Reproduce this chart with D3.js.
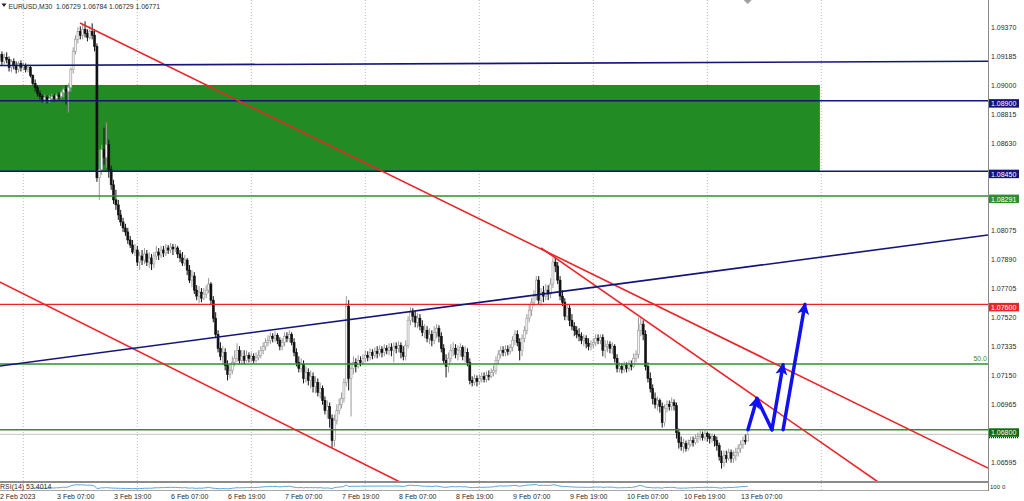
<!DOCTYPE html>
<html><head><meta charset="utf-8">
<script src="https://cdn.jsdelivr.net/npm/d3@7"></script>
<style>
body{margin:0;background:#fff;overflow:hidden}
text{font-family:"Liberation Sans",Arial,sans-serif}
</style>
</head><body>
<svg id="chart" width="1024" height="501"></svg>
<script>
// ---------------- DATA ----------------
const titleText = "EURUSD,M30  1.06729 1.06784 1.06729 1.06771";
const firstDateLabel = "2 Feb 2023";
const timeLabels = ["3 Feb 07:00","3 Feb 19:00","6 Feb 07:00","6 Feb 19:00","7 Feb 07:00","7 Feb 19:00","8 Feb 07:00","8 Feb 19:00","9 Feb 07:00","9 Feb 19:00","10 Feb 07:00","10 Feb 19:00","13 Feb 07:00"];
const timeLabelBars = [24,48,72,96,120,144,168,192,216,240,264,288,312];
const dayStartBars = [10,58,106,154,202,250,298,346];
const priceTicks = [1.09370,1.09185,1.09000,1.08815,1.08630,1.08075,1.07890,1.07705,1.07520,1.07335,1.07150,1.06965,1.06595];
const rsiAxisLabels = ["100","0"];

const close = [1.09195,1.09150,1.09176,1.09163,1.09112,1.09150,1.09125,1.09099,1.09138,1.09112,
1.09125,1.09099,1.09112,1.09061,1.09009,1.08984,1.08945,1.08926,1.08907,1.08920,
1.08901,1.08913,1.08926,1.08913,1.08933,1.08926,1.08952,1.08971,1.08958,1.08984,
1.09099,1.09214,1.09291,1.09342,1.09317,1.09355,1.09329,1.09304,1.09342,1.09317,
1.09246,1.08408,1.08459,1.08587,1.08536,1.08619,1.08459,1.08363,1.08267,1.08235,
1.08171,1.08126,1.08088,1.08062,1.08011,1.07979,1.07934,1.07947,1.07870,1.07909,
1.07883,1.07922,1.07870,1.07896,1.07858,1.07909,1.07934,1.07915,1.07947,1.07928,
1.07960,1.07947,1.07966,1.07954,1.07960,1.07922,1.07896,1.07864,1.07883,1.07819,
1.07755,1.07781,1.07691,1.07653,1.07678,1.07640,1.07666,1.07691,1.07730,1.07627,
1.07512,1.07409,1.07320,1.07269,1.07294,1.07211,1.07154,1.07179,1.07230,1.07256,
1.07307,1.07243,1.07269,1.07243,1.07275,1.07256,1.07269,1.07243,1.07262,1.07275,
1.07307,1.07333,1.07358,1.07371,1.07397,1.07384,1.07403,1.07371,1.07333,1.07358,
1.07397,1.07384,1.07409,1.07358,1.07294,1.07230,1.07192,1.07218,1.07128,1.07166,
1.07115,1.07141,1.07077,1.07102,1.07038,1.07064,1.06987,1.06923,1.06949,1.06872,
1.06731,1.06859,1.06923,1.06962,1.07000,1.07102,1.07589,1.07128,1.07192,1.07230,
1.07205,1.07243,1.07230,1.07256,1.07275,1.07262,1.07294,1.07275,1.07301,1.07288,
1.07314,1.07294,1.07320,1.07307,1.07326,1.07307,1.07333,1.07320,1.07339,1.07294,
1.07269,1.07339,1.07499,1.07550,1.07525,1.07486,1.07512,1.07461,1.07422,1.07435,
1.07384,1.07409,1.07371,1.07422,1.07448,1.07397,1.07320,1.07243,1.07205,1.07256,
1.07307,1.07320,1.07282,1.07307,1.07326,1.07269,1.07294,1.07230,1.07115,1.07102,
1.07128,1.07109,1.07128,1.07141,1.07122,1.07147,1.07141,1.07166,1.07179,1.07243,
1.07282,1.07307,1.07294,1.07314,1.07301,1.07326,1.07371,1.07409,1.07358,1.07307,
1.07384,1.07435,1.07512,1.07563,1.07614,1.07653,1.07755,1.07627,1.07678,1.07653,
1.07691,1.07666,1.07730,1.07870,1.07845,1.07755,1.07653,1.07614,1.07525,1.07576,
1.07499,1.07461,1.07435,1.07409,1.07397,1.07371,1.07384,1.07352,1.07333,1.07346,
1.07358,1.07384,1.07371,1.07390,1.07307,1.07333,1.07346,1.07320,1.07333,1.07256,
1.07192,1.07205,1.07186,1.07211,1.07192,1.07218,1.07205,1.07256,1.07282,1.07435,
1.07474,1.07409,1.07205,1.07128,1.07064,1.07000,1.06962,1.06987,1.06949,1.06846,
1.06936,1.06962,1.06949,1.06974,1.06955,1.06782,1.06718,1.06693,1.06712,1.06680,
1.06706,1.06731,1.06718,1.06744,1.06757,1.06770,1.06750,1.06776,1.06757,1.06744,
1.06757,1.06731,1.06699,1.06629,1.06590,1.06635,1.06616,1.06654,1.06616,1.06635,
1.06654,1.06680,1.06706,1.06731,1.06729,1.06771];

const open = [1.09176,1.09195,1.09150,1.09176,1.09163,1.09112,1.09150,1.09125,1.09099,1.09138,
1.09112,1.09125,1.09099,1.09112,1.09061,1.09009,1.08984,1.08945,1.08926,1.08907,
1.08920,1.08901,1.08913,1.08926,1.08913,1.08933,1.08926,1.08952,1.08971,1.08958,
1.08984,1.09099,1.09214,1.09291,1.09342,1.09317,1.09355,1.09329,1.09304,1.09342,
1.09317,1.09246,1.08408,1.08459,1.08587,1.08536,1.08619,1.08459,1.08363,1.08267,
1.08235,1.08171,1.08126,1.08088,1.08062,1.08011,1.07979,1.07934,1.07947,1.07870,
1.07909,1.07883,1.07922,1.07870,1.07896,1.07858,1.07909,1.07934,1.07915,1.07947,
1.07928,1.07960,1.07947,1.07966,1.07954,1.07960,1.07922,1.07896,1.07864,1.07883,
1.07819,1.07755,1.07781,1.07691,1.07653,1.07678,1.07640,1.07666,1.07691,1.07730,
1.07627,1.07512,1.07409,1.07320,1.07269,1.07294,1.07211,1.07154,1.07179,1.07230,
1.07256,1.07307,1.07243,1.07269,1.07243,1.07275,1.07256,1.07269,1.07243,1.07262,
1.07275,1.07307,1.07333,1.07358,1.07371,1.07397,1.07384,1.07403,1.07371,1.07333,
1.07358,1.07397,1.07384,1.07409,1.07358,1.07294,1.07230,1.07192,1.07218,1.07128,
1.07166,1.07115,1.07141,1.07077,1.07102,1.07038,1.07064,1.06987,1.06923,1.06949,
1.06872,1.06731,1.06859,1.06923,1.06962,1.07000,1.07102,1.07589,1.07128,1.07192,
1.07230,1.07205,1.07243,1.07230,1.07256,1.07275,1.07262,1.07294,1.07275,1.07301,
1.07288,1.07314,1.07294,1.07320,1.07307,1.07326,1.07307,1.07333,1.07320,1.07339,
1.07294,1.07269,1.07339,1.07499,1.07550,1.07525,1.07486,1.07512,1.07461,1.07422,
1.07435,1.07384,1.07409,1.07371,1.07422,1.07448,1.07397,1.07320,1.07243,1.07205,
1.07256,1.07307,1.07320,1.07282,1.07307,1.07326,1.07269,1.07294,1.07230,1.07115,
1.07102,1.07128,1.07109,1.07128,1.07141,1.07122,1.07147,1.07141,1.07166,1.07179,
1.07243,1.07282,1.07307,1.07294,1.07314,1.07301,1.07326,1.07371,1.07409,1.07358,
1.07307,1.07384,1.07435,1.07512,1.07563,1.07614,1.07653,1.07755,1.07627,1.07678,
1.07653,1.07691,1.07666,1.07730,1.07870,1.07845,1.07755,1.07653,1.07614,1.07525,
1.07576,1.07499,1.07461,1.07435,1.07409,1.07397,1.07371,1.07384,1.07352,1.07333,
1.07346,1.07358,1.07384,1.07371,1.07390,1.07307,1.07333,1.07346,1.07320,1.07333,
1.07256,1.07192,1.07205,1.07186,1.07211,1.07192,1.07218,1.07205,1.07256,1.07282,
1.07435,1.07474,1.07409,1.07205,1.07128,1.07064,1.07000,1.06962,1.06987,1.06949,
1.06846,1.06936,1.06962,1.06949,1.06974,1.06955,1.06782,1.06718,1.06693,1.06712,
1.06680,1.06706,1.06731,1.06718,1.06744,1.06757,1.06770,1.06750,1.06776,1.06757,
1.06744,1.06757,1.06731,1.06699,1.06629,1.06590,1.06635,1.06616,1.06654,1.06616,
1.06635,1.06654,1.06680,1.06706,1.06731,1.06729];

const high = [1.09227,1.09214,1.09201,1.09208,1.09182,1.09163,1.09170,1.09150,1.09150,1.09157,
1.09144,1.09138,1.09131,1.09125,1.09067,1.09035,1.08997,1.08965,1.08939,1.08939,
1.08933,1.08933,1.08945,1.08939,1.08945,1.08952,1.08965,1.08984,1.08997,1.09010,
1.09112,1.09240,1.09317,1.09368,1.09374,1.09387,1.09406,1.09355,1.09374,1.09393,
1.09355,1.09265,1.08587,1.08619,1.08728,1.08760,1.08651,1.08485,1.08395,1.08331,
1.08267,1.08203,1.08152,1.08114,1.08088,1.08037,1.08011,1.07986,1.07973,1.07934,
1.07947,1.07960,1.07947,1.07934,1.07922,1.07934,1.07973,1.07960,1.07973,1.07973,
1.07986,1.07979,1.07992,1.07986,1.07986,1.07973,1.07947,1.07934,1.07915,1.07896,
1.07851,1.07819,1.07806,1.07723,1.07717,1.07704,1.07704,1.07723,1.07768,1.07742,
1.07653,1.07550,1.07435,1.07358,1.07333,1.07320,1.07243,1.07218,1.07269,1.07307,
1.07352,1.07333,1.07307,1.07307,1.07307,1.07294,1.07294,1.07288,1.07294,1.07307,
1.07333,1.07358,1.07384,1.07403,1.07422,1.07416,1.07429,1.07416,1.07390,1.07384,
1.07422,1.07422,1.07435,1.07422,1.07384,1.07320,1.07269,1.07256,1.07243,1.07205,
1.07192,1.07179,1.07166,1.07141,1.07128,1.07102,1.07083,1.07013,1.06987,1.06974,
1.06898,1.06898,1.06962,1.07000,1.07038,1.07128,1.07653,1.07627,1.07230,1.07269,
1.07256,1.07275,1.07269,1.07282,1.07307,1.07301,1.07320,1.07314,1.07326,1.07333,
1.07339,1.07333,1.07346,1.07339,1.07352,1.07352,1.07358,1.07358,1.07365,1.07358,
1.07333,1.07371,1.07525,1.07582,1.07576,1.07557,1.07544,1.07538,1.07499,1.07474,
1.07461,1.07448,1.07435,1.07461,1.07474,1.07467,1.07422,1.07346,1.07282,1.07294,
1.07346,1.07358,1.07346,1.07339,1.07352,1.07339,1.07333,1.07320,1.07256,1.07141,
1.07154,1.07147,1.07154,1.07166,1.07166,1.07173,1.07179,1.07192,1.07211,1.07269,
1.07307,1.07333,1.07333,1.07339,1.07339,1.07346,1.07397,1.07435,1.07435,1.07384,
1.07409,1.07461,1.07538,1.07602,1.07640,1.07691,1.07781,1.07781,1.07704,1.07717,
1.07730,1.07723,1.07768,1.07896,1.07902,1.07870,1.07781,1.07691,1.07640,1.07602,
1.07595,1.07538,1.07486,1.07461,1.07448,1.07422,1.07409,1.07403,1.07384,1.07371,
1.07384,1.07409,1.07409,1.07409,1.07409,1.07371,1.07371,1.07365,1.07358,1.07346,
1.07282,1.07230,1.07224,1.07237,1.07230,1.07243,1.07243,1.07288,1.07307,1.07518,
1.07512,1.07499,1.07435,1.07230,1.07166,1.07090,1.07038,1.07013,1.07000,1.06974,
1.06962,1.06987,1.06987,1.07006,1.06994,1.06974,1.06808,1.06757,1.06744,1.06731,
1.06738,1.06757,1.06757,1.06770,1.06782,1.06795,1.06789,1.06795,1.06789,1.06776,
1.06776,1.06770,1.06757,1.06718,1.06667,1.06667,1.06667,1.06680,1.06674,1.06667,
1.06686,1.06706,1.06731,1.06757,1.06770,1.06784];

const low = [1.09150,1.09125,1.09131,1.09138,1.09086,1.09080,1.09099,1.09073,1.09080,1.09086,
1.09093,1.09080,1.09080,1.09048,1.08997,1.08958,1.08926,1.08907,1.08888,1.08888,
1.08881,1.08888,1.08901,1.08894,1.08901,1.08907,1.08913,1.08920,1.08875,1.08824,
1.08958,1.09073,1.09195,1.09265,1.09291,1.09291,1.09304,1.09278,1.09291,1.09291,
1.09214,1.08382,1.08267,1.08427,1.08491,1.08472,1.08408,1.08331,1.08241,1.08203,
1.08139,1.08101,1.08062,1.08037,1.07986,1.07960,1.07922,1.07909,1.07845,1.07819,
1.07851,1.07857,1.07845,1.07832,1.07819,1.07832,1.07883,1.07883,1.07896,1.07902,
1.07909,1.07922,1.07928,1.07915,1.07934,1.07896,1.07870,1.07845,1.07845,1.07787,
1.07736,1.07710,1.07666,1.07627,1.07608,1.07614,1.07627,1.07640,1.07672,1.07602,
1.07486,1.07384,1.07294,1.07243,1.07218,1.07179,1.07115,1.07128,1.07154,1.07205,
1.07230,1.07218,1.07218,1.07218,1.07230,1.07230,1.07230,1.07224,1.07230,1.07243,
1.07256,1.07282,1.07307,1.07333,1.07346,1.07358,1.07358,1.07346,1.07307,1.07307,
1.07333,1.07358,1.07358,1.07339,1.07269,1.07205,1.07166,1.07166,1.07096,1.07102,
1.07083,1.07064,1.07038,1.07032,1.07013,1.07000,1.06960,1.06898,1.06872,1.06814,
1.06686,1.06693,1.06834,1.06898,1.06936,1.06974,1.07077,1.07051,1.06885,1.07154,
1.07166,1.07192,1.07205,1.07211,1.07230,1.07237,1.07243,1.07250,1.07256,1.07256,
1.07269,1.07262,1.07269,1.07282,1.07275,1.07269,1.07230,1.07288,1.07294,1.07256,
1.07243,1.07243,1.07320,1.07467,1.07486,1.07454,1.07448,1.07435,1.07397,1.07384,
1.07358,1.07346,1.07333,1.07346,1.07384,1.07358,1.07294,1.07218,1.07134,1.07166,
1.07230,1.07269,1.07256,1.07243,1.07269,1.07243,1.07230,1.07205,1.07090,1.07077,
1.07083,1.07077,1.07090,1.07102,1.07102,1.07102,1.07115,1.07128,1.07141,1.07154,
1.07218,1.07256,1.07269,1.07269,1.07275,1.07282,1.07301,1.07339,1.07333,1.07243,
1.07269,1.07358,1.07409,1.07486,1.07525,1.07589,1.07627,1.07602,1.07589,1.07614,
1.07627,1.07627,1.07640,1.07704,1.07806,1.07730,1.07627,1.07589,1.07499,1.07499,
1.07461,1.07435,1.07397,1.07384,1.07365,1.07346,1.07333,1.07320,1.07307,1.07307,
1.07320,1.07333,1.07346,1.07346,1.07269,1.07256,1.07294,1.07288,1.07282,1.07230,
1.07166,1.07166,1.07160,1.07166,1.07166,1.07173,1.07179,1.07192,1.07230,1.07256,
1.07397,1.07371,1.07179,1.07102,1.07038,1.06962,1.06936,1.06923,1.06910,1.06814,
1.06821,1.06910,1.06923,1.06923,1.06923,1.06744,1.06680,1.06667,1.06654,1.06661,
1.06667,1.06693,1.06693,1.06706,1.06718,1.06731,1.06731,1.06731,1.06725,1.06712,
1.06718,1.06693,1.06667,1.06603,1.06552,1.06565,1.06590,1.06603,1.06590,1.06590,
1.06603,1.06629,1.06654,1.06680,1.06706,1.06729];

// horizontal levels
const levelPrices = [1.08900, 1.08450, 1.08291, 1.07600, 1.06800];
const levelKinds  = ["navy", "navy", "green", "red", "darkgreen"];
const fiboPrice = 1.07220;
const fiboText = "50.0";
const bidPrice = 1.06771;
// zone rectangle [barFrom, barTo], [priceTop, priceBottom]
const zoneBars = [-5, 345.4];
const zonePrices = [1.09000, 1.08450];
// trend lines: [bar, price] start and end
const trendStart = [[33.87,1.09395],[227.98,1.07960],[0,1.07743],[0,1.09124],[0,1.07207]];
const trendEnd   = [[416.2,1.06556],[369.9,1.06467],[168.6,1.06467],[416.2,1.09151],[416.2,1.08043]];
const trendKinds = ["red","red","red","navy","navy"];
// forecast arrows drawn by hand: [bar, price]
const arrowFrom = [[315.1,1.06800],[318.9,1.07000],[325.2,1.06800],[329.9,1.06800]];
const arrowTo   = [[318.9,1.07000],[325.2,1.06800],[329.9,1.07215],[339.1,1.07600]];
const arrowHead = [true,false,true,true];
const rsiText = "RSI(14) 53.4014";

// ---------------- STYLE ----------------
const colors = {navy:"#14147a", green:"#2f8f2f", darkgreen:"#0a6e0a", red:"#e8262a", zone:"#238b23",
  bull:"#9a9a9a", bear:"#111111", grid:"#b8b8b8", axis:"#8a8a8a", text:"#2a2a2a", arrow:"#1010f0", rsi:"#5aa6dc", bid:"#c4c4c4"};

const svg = d3.select("#chart");
const plotRight = 988, mainBottom = 482;
const x = d3.scaleLinear().domain([0, 315]).range([-0.45, 747.7]);
const y = d3.scaleLinear().domain([1.06467, 1.09542]).range([mainBottom, 0]);

const defs = svg.append("defs");
defs.append("clipPath").attr("id","mainClip").append("rect")
  .attr("x",0).attr("y",0).attr("width",plotRight).attr("height",mainBottom);
defs.append("marker").attr("id","ah").attr("viewBox","0 0 12 12").attr("refX",10).attr("refY",6)
  .attr("markerWidth",12).attr("markerHeight",12).attr("markerUnits","userSpaceOnUse").attr("orient","auto")
  .append("path").attr("d","M0,0L12,6L0,12L3,6z").attr("fill",colors.arrow);

// grid
svg.append("g").selectAll("line").data(dayStartBars).join("line")
  .attr("x1",d=>x(d)).attr("x2",d=>x(d)).attr("y1",0).attr("y2",491)
  .attr("stroke",colors.grid).attr("stroke-width",1).attr("stroke-dasharray","1,2");

const main = svg.append("g").attr("clip-path","url(#mainClip)");

// zone rectangle
main.append("rect")
  .attr("x", x(zoneBars[0])).attr("width", x(zoneBars[1]) - x(zoneBars[0]))
  .attr("y", y(zonePrices[0])).attr("height", y(zonePrices[1]) - y(zonePrices[0]))
  .attr("fill", colors.zone);

// bid line
main.append("line").attr("x1",0).attr("x2",plotRight).attr("y1",y(bidPrice)).attr("y2",y(bidPrice))
  .attr("stroke",colors.bid).attr("stroke-width",1);

// candles
const bars = d3.range(close.length);
const cg = main.append("g");
cg.selectAll("line").data(bars).join("line")
  .attr("x1",i=>x(i)).attr("x2",i=>x(i))
  .attr("y1",i=>y(high[i])).attr("y2",i=>y(low[i]))
  .attr("stroke",i=>close[i]>=open[i]?colors.bull:colors.bear).attr("stroke-width",1);
cg.selectAll("rect").data(bars).join("rect")
  .attr("x",i=>x(i)-1).attr("width",2)
  .attr("y",i=>y(Math.max(open[i],close[i])))
  .attr("height",i=>Math.max(1, Math.abs(y(open[i])-y(close[i]))))
  .attr("fill",i=>close[i]>=open[i]?"#f4f4f4":colors.bear)
  .attr("stroke",i=>close[i]>=open[i]?colors.bull:colors.bear).attr("stroke-width",0.6);

// horizontal levels
main.selectAll(".lvl").data(levelPrices).join("line").attr("class","lvl")
  .attr("x1",0).attr("x2",plotRight).attr("y1",d=>y(d)).attr("y2",d=>y(d))
  .attr("stroke",(d,i)=>colors[levelKinds[i]==="darkgreen"?"green":levelKinds[i]])
  .attr("stroke-width",(d,i)=>levelKinds[i]==="red"?1.2:1.5);
main.append("line").attr("x1",0).attr("x2",plotRight).attr("y1",y(fiboPrice)).attr("y2",y(fiboPrice))
  .attr("stroke",colors.green).attr("stroke-width",1.5);
svg.append("text").attr("x",plotRight-1).attr("y",y(fiboPrice)-3).attr("text-anchor","end")
  .attr("font-size",7).attr("fill",colors.green).text(fiboText);

// trend lines
main.selectAll(".tl").data(trendStart).join("line").attr("class","tl")
  .attr("x1",d=>x(d[0])).attr("y1",d=>y(d[1]))
  .attr("x2",(d,i)=>x(trendEnd[i][0])).attr("y2",(d,i)=>y(trendEnd[i][1]))
  .attr("stroke",(d,i)=>colors[trendKinds[i]]).attr("stroke-width",1.6);

// arrows
svg.selectAll(".ar").data(arrowFrom).join("line").attr("class","ar")
  .attr("x1",d=>x(d[0])).attr("y1",d=>y(d[1]))
  .attr("x2",(d,i)=>x(arrowTo[i][0])).attr("y2",(d,i)=>y(arrowTo[i][1]))
  .attr("stroke",colors.arrow).attr("stroke-width",3.5).attr("stroke-linecap","round")
  .attr("marker-end",(d,i)=>arrowHead[i]?"url(#ah)":null);

// separators / axis lines
svg.append("rect").attr("x",0).attr("y",mainBottom-1).attr("width",plotRight).attr("height",2).attr("fill","#8c8c8c");
svg.append("line").attr("x1",0).attr("x2",plotRight).attr("y1",490.5).attr("y2",490.5).attr("stroke","#a8a8a8");
svg.append("line").attr("x1",plotRight+0.5).attr("x2",plotRight+0.5).attr("y1",0).attr("y2",491).attr("stroke",colors.axis);

// RSI(14) computed from closes (Wilder)
const rsi = [];
let ag=0, al=0; const P=14;
for (let i=1;i<close.length;i++){
  const ch = close[i]-close[i-1];
  const g = Math.max(ch,0), l = Math.max(-ch,0);
  if (i<=P){ ag+=g/P; al+=l/P; if(i===P) rsi.push([i, al===0?100:100-100/(1+ag/al)]); }
  else { ag=(ag*(P-1)+g)/P; al=(al*(P-1)+l)/P; rsi.push([i, al===0?100:100-100/(1+ag/al)]); }
}
const yr = d3.scaleLinear().domain([0,100]).range([490,483]);
svg.append("path").datum(rsi).attr("fill","none").attr("stroke",colors.rsi).attr("stroke-width",1)
  .attr("d", d3.line().x(d=>x(d[0])).y(d=>yr(d[1])));
svg.append("text").attr("x",0).attr("y",489.3).attr("font-size",7).attr("fill",colors.text).text(rsiText);
svg.append("text").attr("x",990).attr("y",488.5).attr("font-size",6).attr("fill",colors.text).text(rsiAxisLabels[0]);
svg.append("text").attr("x",1002).attr("y",488.5).attr("font-size",6).attr("fill",colors.text).text(rsiAxisLabels[1]);

// price axis
const yAxis = d3.axisRight(y).tickValues(priceTicks).tickFormat(d=>d.toFixed(5)).tickSize(0).tickPadding(3);
const ya = svg.append("g").attr("transform",`translate(${plotRight},0)`).call(yAxis);
ya.select(".domain").remove();
ya.selectAll("text").attr("font-size",7).attr("fill",colors.text).attr("font-family","Liberation Sans, Arial, sans-serif");

// level price boxes
const boxes = svg.append("g");
levelPrices.forEach((p,i)=>{
  const yy = y(p);
  boxes.append("rect").attr("x",plotRight+1).attr("y",yy-1.5).attr("width",30).attr("height",8.5)
    .attr("fill",colors[levelKinds[i]]);
  boxes.append("text").attr("x",plotRight+3).attr("y",yy+5.6).attr("font-size",7).attr("fill","#fff").text(p.toFixed(5));
});
boxes.append("line").attr("x1",plotRight+1).attr("x2",plotRight+31)
  .attr("y1",y(levelPrices[4])+7.8).attr("y2",y(levelPrices[4])+7.8)
  .attr("stroke","#222").attr("stroke-width",1.2).attr("stroke-dasharray","1,1");

// time axis
svg.append("text").attr("x",0).attr("y",498.5).attr("font-size",7).attr("fill",colors.text).text(firstDateLabel);
svg.append("g").selectAll("text").data(timeLabelBars).join("text")
  .attr("x",d=>x(d)+0.5).attr("y",498.5).attr("font-size",7).attr("fill",colors.text)
  .text((d,i)=>timeLabels[i]);

// header
svg.append("path").attr("d","M1.5,3.5L6.5,3.5L4,7z").attr("fill","#222");
svg.append("text").attr("x",8.5).attr("y",9).attr("font-size",6.8).attr("fill",colors.text)
  .attr("xml:space","preserve").style("white-space","pre").text(titleText);
// chart shift marker
svg.append("path").attr("d",`M${x(315)-4},0L${x(315)+4},0L${x(315)},4z`).attr("fill","#a0a0a0");
</script>
</body></html>
